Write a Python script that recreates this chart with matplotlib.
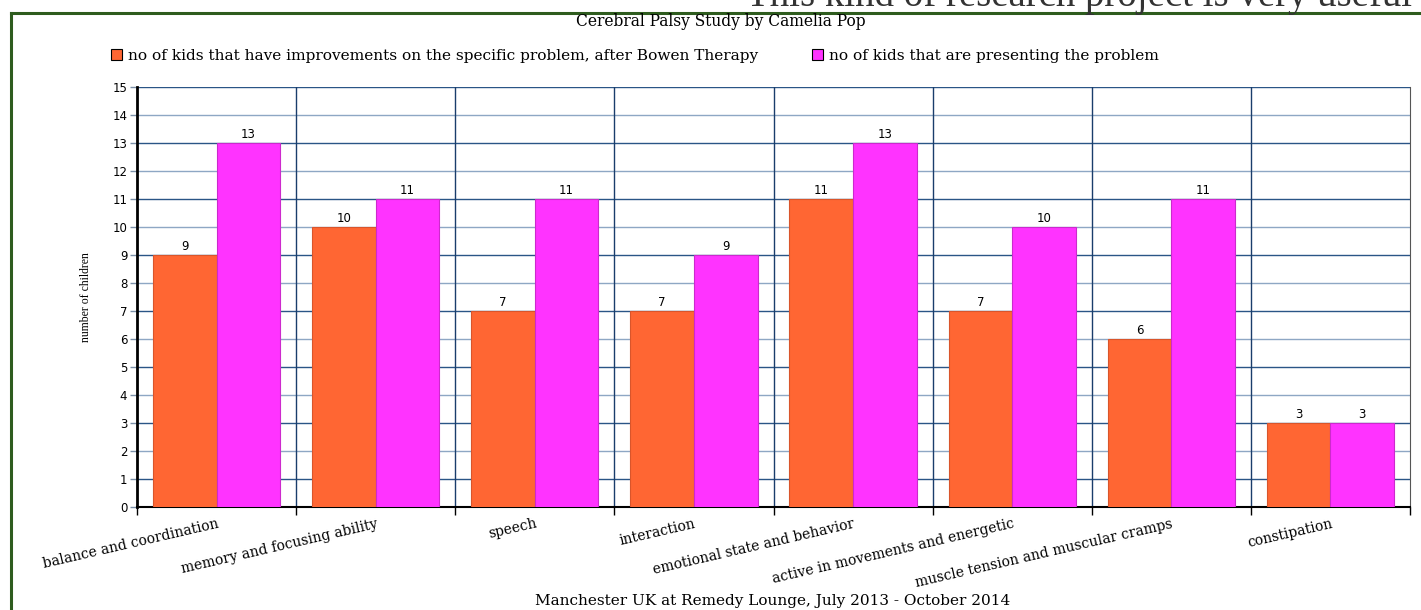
import numpy as np
import matplotlib.pyplot as plt
from matplotlib.lines import Line2D
from matplotlib.patches import Patch

categories = ['balance and coordination', 'memory and focusing ability', 'speech',
              'interaction', 'emotional state and behavior', 'active in movements and energetic',
              'muscle tension and muscular cramps', 'constipation']
improved = [9, 10, 7, 7, 11, 7, 6, 3]
presenting = [13, 11, 11, 9, 13, 10, 11, 3]
series_names = ['no of kids that have improvements on the specific problem, after Bowen Therapy',
                'no of kids that are presenting the problem']

W, H = 1421, 610
fig = plt.figure(figsize=(W / 100, H / 100), dpi=100)
serif = 'DejaVu Serif'

# plot area in pixels
x0, x1, y0, y1 = 137, 1410, 87, 507
ax = fig.add_axes([x0 / W, 1 - y1 / H, (x1 - x0) / W, (y1 - y0) / H])

x = np.arange(len(categories))
w = 0.4
ax.bar(x - w / 2, improved, w, color='#ff6633', edgecolor='#d9552b', linewidth=0.8, zorder=3)
ax.bar(x + w / 2, presenting, w, color='#ff33ff', edgecolor='#cc2acc', linewidth=0.8, zorder=3)

for i in range(len(categories)):
    ax.text(x[i] - w / 2, improved[i] + 0.08, str(improved[i]), ha='center', va='bottom',
            fontsize=8.5, zorder=4)
    ax.text(x[i] + w / 2, presenting[i] + 0.08, str(presenting[i]), ha='center', va='bottom',
            fontsize=8.5, zorder=4)

# horizontal grid, alternating shades
for v in range(1, 16):
    col = '#2a5586' if v % 2 else '#8ea7c4'
    ax.axhline(v, color=col, linewidth=1, zorder=1)
# vertical separators between categories
for b in np.arange(0.5, len(categories) - 0.5, 1):
    ax.axvline(b, color='#1a3d6b', linewidth=1, zorder=1)

ax.set_xlim(-0.5, len(categories) - 0.5)
ax.set_ylim(0, 15)
ax.set_yticks(range(0, 16))
ax.tick_params(axis='y', length=5, width=1, color='#7a8fa8', labelsize=8.5, pad=2)

ax.set_xticks(np.arange(-0.5, len(categories), 1))
ax.set_xticklabels([])
ax.tick_params(axis='x', which='major', length=6, width=1, color='black')
ax.set_xticks(x, minor=True)
ax.set_xticklabels(categories, minor=True, rotation=13, ha='right', rotation_mode='anchor',
                   fontsize=10, family=serif)
ax.tick_params(axis='x', which='minor', length=0, pad=7)

ax.spines['left'].set_linewidth(2)
ax.spines['bottom'].set_linewidth(1.5)
ax.spines['top'].set_visible(False)
ax.spines['right'].set_color('#555555')

ax.set_ylabel('number of children', family='Liberation Serif', fontsize=8.5)
ax.yaxis.set_label_coords(-0.035, 0.5)

# texts around the chart
fig.text(721 / W, 1 - 22 / H, 'Cerebral Palsy Study by Camelia Pop', ha='center', va='center',
         family=serif, fontsize=11.2)
fig.text(773 / W, 1 - 601 / H, 'Manchester UK at Remedy Lounge, July 2013 - October 2014',
         ha='center', va='center', family=serif, fontsize=11)
fig.text(1412 / W, 1 - 6 / H, 'This kind of research project is very useful', ha='right',
         va='baseline', family='Liberation Serif', fontsize=28, color='#333333')

handles = [Patch(facecolor='#ff6633', edgecolor='black', linewidth=0.8),
           Patch(facecolor='#ff33ff', edgecolor='black', linewidth=0.8)]
fig.legend(handles, series_names, loc='center left', bbox_to_anchor=(97 / W, 1 - 56 / H),
           ncol=2, frameon=False, handlelength=0.75, handleheight=0.75, handletextpad=0.35,
           columnspacing=3.5, prop={'family': serif, 'size': 11.1})

# green frame
fig.add_artist(Line2D([11 / W, 1], [1 - 13 / H, 1 - 13 / H], color='#2e5c1e', linewidth=2.2))
fig.add_artist(Line2D([11 / W, 11 / W], [0, 1 - 13 / H], color='#2e5c1e', linewidth=2.2))

fig.savefig('out.png', dpi=100)
